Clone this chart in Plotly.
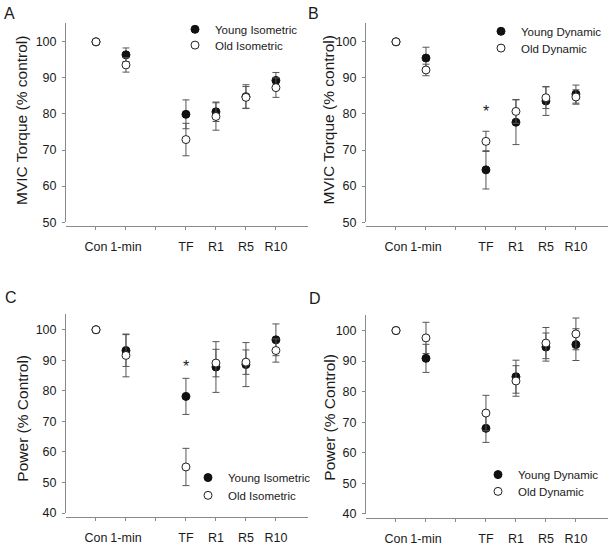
import plotly.graph_objects as go

# ---------------- data ----------------
tick_labels = ["Con", "1-min", " ", "TF", "R1", "R5", "R10"]
categories = ["Con", "1-min", "TF", "R1", "R5", "R10"]

# Panel A: MVIC torque, isometric
a_young = [100, 96.4, 79.9, 80.6, 84.8, 89.3]
a_young_err = [0, 1.9, 4.0, 2.7, 3.3, 2.2]
a_old = [100, 93.6, 72.9, 79.3, 84.6, 87.3]
a_old_err = [0, 2.0, 4.5, 3.8, 3.0, 2.7]

# Panel B: MVIC torque, dynamic
b_young = [100, 95.5, 64.5, 77.7, 83.6, 85.5]
b_young_err = [0, 3.0, 5.3, 6.2, 4.0, 2.5]
b_old = [100, 92.2, 72.4, 80.7, 84.5, 84.7]
b_old_err = [0, 1.6, 2.8, 3.3, 3.0, 2.0]

# Panel C: power, isometric
c_young = [100, 93.2, 78.2, 87.8, 88.6, 96.7]
c_young_err = [0, 5.2, 5.9, 8.3, 7.2, 5.2]
c_old = [100, 91.6, 55.1, 89.1, 89.4, 93.2]
c_old_err = [0, 7.0, 6.1, 4.5, 4.0, 3.8]

# Panel D: power, dynamic
d_young = [100, 90.9, 68.0, 84.9, 94.6, 95.4]
d_young_err = [0, 4.6, 4.6, 5.4, 4.6, 5.2]
d_old = [100, 97.6, 73.0, 83.5, 95.9, 98.9]
d_old_err = [0, 5.1, 5.8, 5.0, 5.1, 5.2]

panel_letters = ["A", "B", "C", "D"]
y_titles = ["MVIC Torque (% control)", "MVIC Torque (% control)",
            "Power (% Control)", "Power (% Control)"]
legend_names = [("Young Isometric", "Old Isometric"), ("Young Dynamic", "Old Dynamic"),
                ("Young Isometric", "Old Isometric"), ("Young Dynamic", "Old Dynamic")]
star_values = [None, 81.7, 89.2, None]

# ---------------- layout helpers ----------------
W, H = 614, 553
FONT = "Arial, Liberation Sans, sans-serif"
AXIS_COL = "#8a8a8a"
TXT = "#1a1a1a"


def fx(px):
    return px / W


def fy(py):
    return 1 - py / H


panels = [
    dict(x0=66, x1=308, ytop=23, ybot=225, xline=229, yr=[50, 105.3], ticks=[50, 60, 70, 80, 90, 100],
         young=a_young, yerr=a_young_err, old=a_old, oerr=a_old_err,
         leg=(175, 15, 31), letter=(9.5, 14), title=(22, 122.5)),
    dict(x0=366, x1=608, ytop=23, ybot=225, xline=229, yr=[50, 105.3], ticks=[50, 60, 70, 80, 90, 100],
         young=b_young, yerr=b_young_err, old=b_old, oerr=b_old_err,
         leg=(481, 17, 34), letter=(313, 14), title=(328, 122)),
    dict(x0=66, x1=308, ytop=318.5, ybot=519.7, xline=523.7, yr=[40, 105], ticks=[40, 50, 60, 70, 80, 90, 100],
         young=c_young, yerr=c_young_err, old=c_old, oerr=c_old_err,
         leg=(188, 469, 487), letter=(11, 301), title=(23, 424)),
    dict(x0=366, x1=608, ytop=319, ybot=520.5, xline=524.5, yr=[40, 105.1], ticks=[40, 50, 60, 70, 80, 90, 100],
         young=d_young, yerr=d_young_err, old=d_old, oerr=d_old_err,
         leg=(478, 466, 483), letter=(315, 302), title=(330, 423)),
]

fig = go.Figure()
layout = dict(width=W, height=H, margin=dict(l=0, r=0, t=0, b=0),
              paper_bgcolor="white", plot_bgcolor="white",
              font=dict(family=FONT, color=TXT, size=12), showlegend=True)
annotations = []


def legend_name(k):
    return "legend" if k == 1 else "legend" + str(k)


for i, p in enumerate(panels):
    n = "" if i == 0 else str(i + 1)
    xa, ya = "x" + n, "y" + n
    yn, on = legend_names[i]
    lg_y, lg_o = legend_name(2 * i + 1), legend_name(2 * i + 2)
    fig.add_trace(go.Scatter(
        x=categories, y=p["young"], xaxis=xa, yaxis=ya, mode="markers", name=yn, legend=lg_y,
        marker=dict(size=8, color="#111111", line=dict(color="#111111", width=1)),
        error_y=dict(type="data", array=p["yerr"], color="#555555", thickness=1, width=3.5),
        cliponaxis=False))
    fig.add_trace(go.Scatter(
        x=categories, y=p["old"], xaxis=xa, yaxis=ya, mode="markers", name=on, legend=lg_o,
        marker=dict(size=8, color="white", line=dict(color="#222222", width=1)),
        error_y=dict(type="data", array=p["oerr"], color="#555555", thickness=1, width=3.5),
        cliponaxis=False))

    layout["xaxis" + n] = dict(
        domain=[fx(p["x0"]), fx(p["x1"])], anchor="free", position=fy(p["xline"]),
        type="category", categoryorder="array", categoryarray=tick_labels,
        tickmode="array", tickvals=tick_labels, ticktext=tick_labels,
        range=[-1, 7.07], showgrid=False, zeroline=False,
        showline=True, linecolor=AXIS_COL, linewidth=1,
        ticks="outside", ticklen=3, tickcolor=AXIS_COL, ticklabelstandoff=6,
        tickfont=dict(size=12.5, color=TXT, family=FONT), fixedrange=True)
    layout["yaxis" + n] = dict(
        domain=[fy(p["ybot"]), fy(p["ytop"])], anchor=xa, range=p["yr"],
        tickmode="array", tickvals=p["ticks"], showgrid=False, zeroline=False,
        showline=True, linecolor=AXIS_COL, linewidth=1,
        ticks="outside", ticklen=3, tickcolor=AXIS_COL, ticklabelstandoff=3,
        tickfont=dict(size=12.5, color=TXT, family=FONT), fixedrange=True)
    lx, ly1, ly2 = p["leg"]
    for lg, ly in ((lg_y, ly1), (lg_o, ly2)):
        layout[lg] = dict(x=fx(lx), y=fy(ly), xanchor="left", yanchor="top",
                          bgcolor="rgba(0,0,0,0)", borderwidth=0,
                          font=dict(size=11.5, color=TXT, family=FONT))

    annotations.append(dict(text=panel_letters[i], x=fx(p["letter"][0]), y=fy(p["letter"][1]),
                            xref="paper", yref="paper", xanchor="center", yanchor="middle",
                            showarrow=False, font=dict(size=16, color=TXT, family=FONT)))
    annotations.append(dict(text=y_titles[i], x=fx(p["title"][0]), y=fy(p["title"][1]),
                            xref="paper", yref="paper", xanchor="center", yanchor="middle",
                            textangle=-90, showarrow=False,
                            font=dict(size=15.5, color=TXT, family=FONT)))
    if star_values[i] is not None:
        annotations.append(dict(text="*", x="TF", y=star_values[i], xref=xa, yref=ya,
                                xanchor="center", yanchor="middle", yshift=-4,
                                showarrow=False, font=dict(size=16, color=TXT, family=FONT)))

layout["annotations"] = annotations
fig.update_layout(**layout)
fig.write_html("out.html",
               config={"displayModeBar": False},
               post_script="document.body.style.margin='0px';"
                           "document.documentElement.style.overflow='hidden';")
